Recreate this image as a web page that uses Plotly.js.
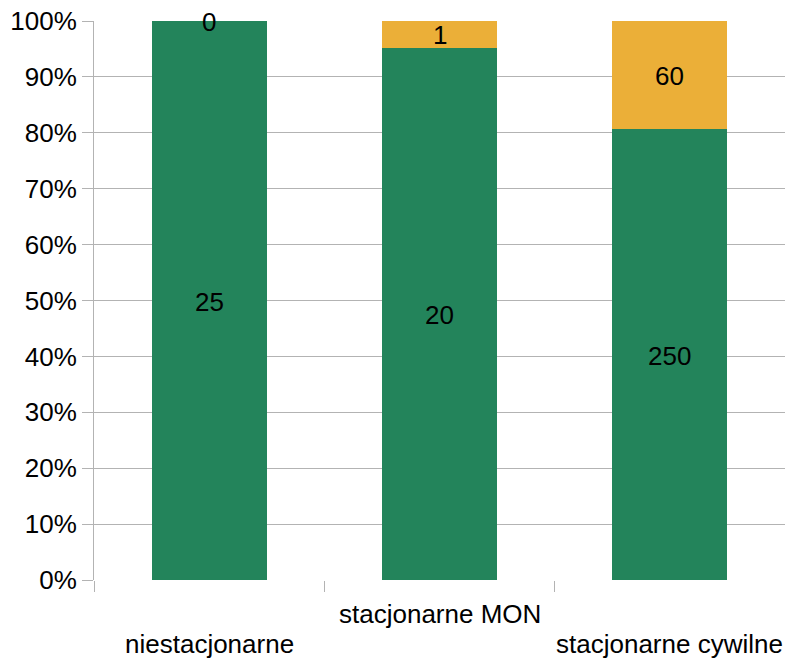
<!DOCTYPE html>
<html>
<head>
<meta charset="utf-8">
<script src="https://cdn.plot.ly/plotly-3.0.1.min.js"></script>
<style>html,body{margin:0;padding:0;background:#fff}#chart{width:785px;height:659px}</style>
</head>
<body>
<div id="chart"></div>
<script>
var categories = ['niestacjonarne', 'stacjonarne MON', 'stacjonarne cywilne'];
var greenValues = [25, 20, 250];
var orangeValues = [0, 1, 60];
var yTickVals = [0, 10, 20, 30, 40, 50, 60, 70, 80, 90, 100];
var yTickText = ['0%', '10%', '20%', '30%', '40%', '50%', '60%', '70%', '80%', '90%', '100%'];

var FONT = 'Liberation Sans, Arial, sans-serif';
var xs = categories.map(function (c, i) { return i; });

var gp = [], op = [], gMid = [], oMid = [];
for (var i = 0; i < categories.length; i++) {
  var tot = greenValues[i] + orangeValues[i];
  gp.push(greenValues[i] / tot * 100);
  op.push(orangeValues[i] / tot * 100);
  gMid.push(gp[i] / 2);
  oMid.push(gp[i] + op[i] / 2);
}

var traces = [
  {type: 'bar', x: xs, y: greenValues, width: 0.5, marker: {color: '#23845b'}, hoverinfo: 'skip'},
  {type: 'bar', x: xs, y: orangeValues, width: 0.5, marker: {color: '#ebaf38'}, hoverinfo: 'skip'}
];

var annotations = categories.map(function (c, i) {
  return {
    xref: 'x', yref: 'paper', x: i, y: 0, text: c, showarrow: false,
    xanchor: 'center', yanchor: 'top', yshift: (i % 2 === 1) ? -17 : -47,
    font: {family: FONT, size: 26, color: '#000'}
  };
});
function valueLabel(x, y, v) {
  return {xref: 'x', yref: 'y', x: x, y: y, text: String(v), showarrow: false,
    xanchor: 'center', yanchor: 'middle', yshift: -1,
    font: {family: FONT, size: 26, color: '#000'}};
}
for (var j = 0; j < categories.length; j++) {
  annotations.push(valueLabel(j, gMid[j], greenValues[j]));
  annotations.push(valueLabel(j, oMid[j], orangeValues[j]));
}

var layout = {
  width: 785, height: 659,
  margin: {l: 94, r: 0, t: 21, b: 79},
  paper_bgcolor: '#fff', plot_bgcolor: '#fff',
  showlegend: false,
  barmode: 'stack', barnorm: 'percent',
  font: {family: FONT, size: 26, color: '#000'},
  xaxis: {
    range: [-0.5, 2.5], tickvals: [-0.5, 0.5, 1.5, 2.5], ticktext: ['', '', '', ''],
    ticks: 'outside', ticklen: 11, tickcolor: '#b3b3b3', tickwidth: 1,
    showgrid: false, zeroline: false, showline: false, fixedrange: true
  },
  yaxis: {
    range: [0, 100], tickvals: yTickVals, ticktext: yTickText,
    ticks: 'outside', ticklen: 11, tickcolor: '#b3b3b3', tickwidth: 1,
    showgrid: true, gridcolor: '#b3b3b3', gridwidth: 1,
    showline: true, linecolor: '#b3b3b3', linewidth: 1,
    zeroline: false, tickfont: {family: FONT, size: 26, color: '#000'}, fixedrange: true
  },
  annotations: annotations
};

Plotly.newPlot('chart', traces, layout, {displayModeBar: false, staticPlot: true});
</script>
</body>
</html>
